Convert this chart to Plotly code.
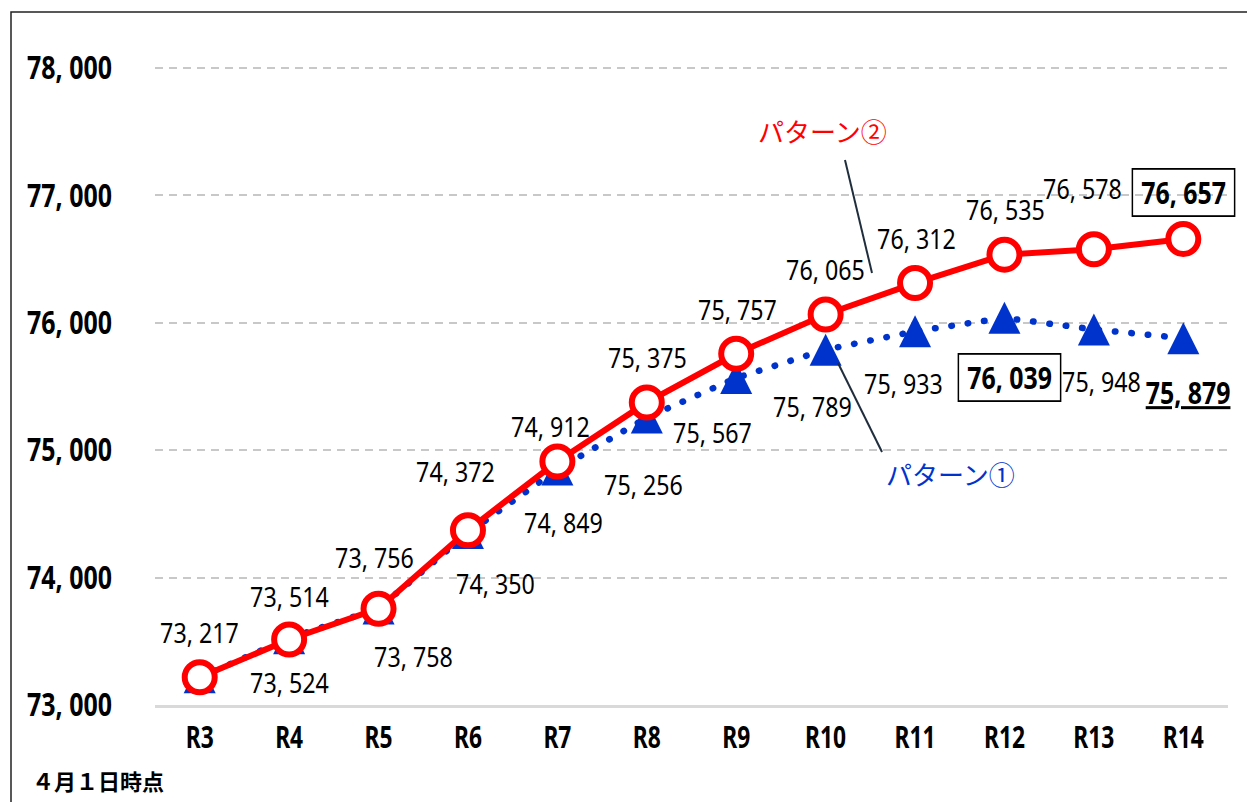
import plotly.graph_objects as go

# ---------------- data ----------------
categories = ["R3", "R4", "R5", "R6", "R7", "R8", "R9", "R10", "R11", "R12", "R13", "R14"]
pattern2 = [73217, 73514, 73756, 74372, 74912, 75375, 75757, 76065, 76312, 76535, 76578, 76657]
pattern1 = [73217, 73524, 73758, 74350, 74849, 75256, 75567, 75789, 75933, 76039, 75948, 75879]
y_ticks = [73000, 74000, 75000, 76000, 77000, 78000]
name1 = "パターン①"
name2 = "パターン②"
note = "４月１日時点"

# ---------------- style ----------------
W, H = 1247, 802
L, R, T, B = 155, 19, 20, 97
RED = "#ff0000"
BLUE = "#0033cc"
NUM_FONT = "Noto Sans, DejaVu Sans, sans-serif"
JP_FONT = "Noto Sans CJK JP, sans-serif"

# label pixel offsets (dx, dy down-positive) relative to their points
red_off = [(0, -45), (0, -44), (-4, -52), (-12, -59), (-7, -35), (1, -45), (1, -45),
           (0, -46), (1, -45), (1, -46), (-11, -61), (0, -47)]
blue_off = [None, (0, 44), (35, 48), (28, 50), (6, 53), (-3, 66), (-24, 54),
            (-13, 56), (-12, 52), (5, 60), (8, 52), (5, 54)]

def fmt(v):
    return f"{v:,}".replace(",", ", ")

def paper(px, py):
    return (px - L) / (W - L - R), (H - B - py) / (H - T - B)

fig = go.Figure()
xi = list(range(len(categories)))

fig.add_trace(go.Scatter(
    x=xi, y=pattern1, mode="lines+markers", name=name1,
    line=dict(color=BLUE, width=6.5, dash="0.5px,16px", backoff=0),
    marker=dict(symbol="arrow-down", angle=180, standoff=16, size=32, color=BLUE,
                line=dict(width=0)),
    hoverinfo="skip", showlegend=False,
))
fig.add_trace(go.Scatter(
    x=xi, y=pattern2, mode="lines+markers", name=name2,
    line=dict(color=RED, width=6),
    marker=dict(symbol="circle", size=30, color="white", line=dict(color=RED, width=6)),
    hoverinfo="skip", showlegend=False,
))

NB = "\u00a0"
ann = []
for i, v in enumerate(pattern2):
    dx, dy = red_off[i]
    last = i == len(pattern2) - 1
    ann.append(dict(
        x=i, y=v, xref="x", yref="y",
        text=(f"<b>{NB}{fmt(v)}{NB}</b>" if last else fmt(v)),
        showarrow=False, xshift=dx, yshift=-dy, xanchor="center", yanchor="middle",
        font=dict(family=NUM_FONT, size=(30 if last else 28), color="black"),
        bordercolor=("black" if last else None), borderwidth=(1.8 if last else 0),
        borderpad=(2 if last else 0),
    ))
for i, v in enumerate(pattern1):
    if blue_off[i] is None:
        continue
    dx, dy = blue_off[i]
    boxed = categories[i] == "R12"
    under = i == len(pattern1) - 1
    if boxed:
        txt = f"<b>{NB}{fmt(v)}{NB}</b>"
    elif under:
        txt = f"<b><u>{fmt(v)}</u></b>"
    else:
        txt = fmt(v)
    ann.append(dict(
        x=i, y=v, xref="x", yref="y", text=txt,
        showarrow=False, xshift=dx, yshift=-dy, xanchor="center", yanchor="middle",
        font=dict(family=NUM_FONT, size=(30 if (boxed or under) else 28), color="black"),
        bordercolor=("black" if boxed else None), borderwidth=(1.8 if boxed else 0),
        borderpad=(2 if boxed else 0),
    ))

# series name labels
px2, py2 = paper(822, 130)
px1, py1 = paper(950, 473)
ann.append(dict(x=px2, y=py2, xref="paper", yref="paper", text=name2, showarrow=False,
                font=dict(family=JP_FONT, size=26, color=RED), xanchor="center", yanchor="middle"))
ann.append(dict(x=px1, y=py1, xref="paper", yref="paper", text=name1, showarrow=False,
                font=dict(family=JP_FONT, size=26, color=BLUE), xanchor="center", yanchor="middle"))
nx, ny = paper(30, 780)
ann.append(dict(x=nx, y=ny, xref="paper", yref="paper", text=note, showarrow=False,
                font=dict(family=JP_FONT, size=22, color="black", weight="bold"),
                xanchor="left", yanchor="middle"))

shapes = []
a0 = paper(845, 160); a1 = paper(872, 273)
b0 = paper(838, 363); b1 = paper(882, 452)
for p, q in [(a0, a1), (b0, b1)]:
    shapes.append(dict(type="line", xref="paper", yref="paper", x0=p[0], y0=p[1], x1=q[0], y1=q[1],
                       line=dict(color="#1f2d3d", width=2)))
r0 = paper(11, 12); r1 = paper(W + 20, H + 20)
shapes.append(dict(type="rect", xref="paper", yref="paper", x0=r0[0], y0=r0[1], x1=r1[0], y1=r1[1],
                   line=dict(color="#222222", width=1.5), fillcolor="rgba(0,0,0,0)", layer="below"))

fig.update_layout(
    width=W, height=H, autosize=False,
    margin=dict(l=L, r=R, t=T, b=B, pad=0),
    paper_bgcolor="white", plot_bgcolor="white",
    annotations=ann, shapes=shapes,
    xaxis=dict(
        range=[-0.5, len(categories) - 0.5], tickmode="array", tickvals=xi, ticktext=categories,
        showgrid=False, zeroline=False, showline=True, linecolor="#d9d9d9", linewidth=2.5,
        ticks="", ticklabelstandoff=5, automargin=False,
        tickfont=dict(family=NUM_FONT, size=30, color="black", weight="bold"),
    ),
    yaxis=dict(
        range=[73000, 73000 + 5000 * (H - T - B) / 637], tickmode="array", tickvals=y_ticks,
        ticktext=[fmt(v) for v in y_ticks],
        showgrid=True, gridcolor="#c8c8c8", gridwidth=2, griddash="8px,6px",
        zeroline=False, showline=False, ticks="", ticklabelstandoff=42, automargin=False,
        tickfont=dict(family=NUM_FONT, size=32, color="black", weight="bold"),
    ),
)

post = """
document.body.style.margin='0';
document.body.style.overflow='hidden';
var gd=document.getElementById('{plot_id}');
function squeeze(el, s, mode){
  var b=el.getBBox(); if(!b.width) return;
  var cx = (mode==='end') ? b.x+b.width : b.x+b.width/2;
  var t=el.getAttribute('transform')||'';
  el.setAttribute('transform', t+' translate('+cx+',0) scale('+s+',1) translate('+(-cx)+',0)');
}
var tr=gd.querySelectorAll('.scatterlayer .trace');
if(tr.length){tr[0].querySelectorAll('path.js-line').forEach(function(p){p.style.strokeLinecap='round';});}
gd.querySelectorAll('g.annotation').forEach(function(a){
  var txt=a.textContent;
  if(/[0-9]/.test(txt) && !/[パ月]/.test(txt)){
    var g=a.querySelector('g.annotation-text-g'); if(g) squeeze(g,0.83,'mid');
  }
});
gd.querySelectorAll('g.ytick text').forEach(function(t){squeeze(t,0.78,'end');});
gd.querySelectorAll('g.xtick text').forEach(function(t){squeeze(t,0.76,'mid');});
"""
fig.write_html("out.html", post_script=post, config={"displayModeBar": False, "staticPlot": True})
